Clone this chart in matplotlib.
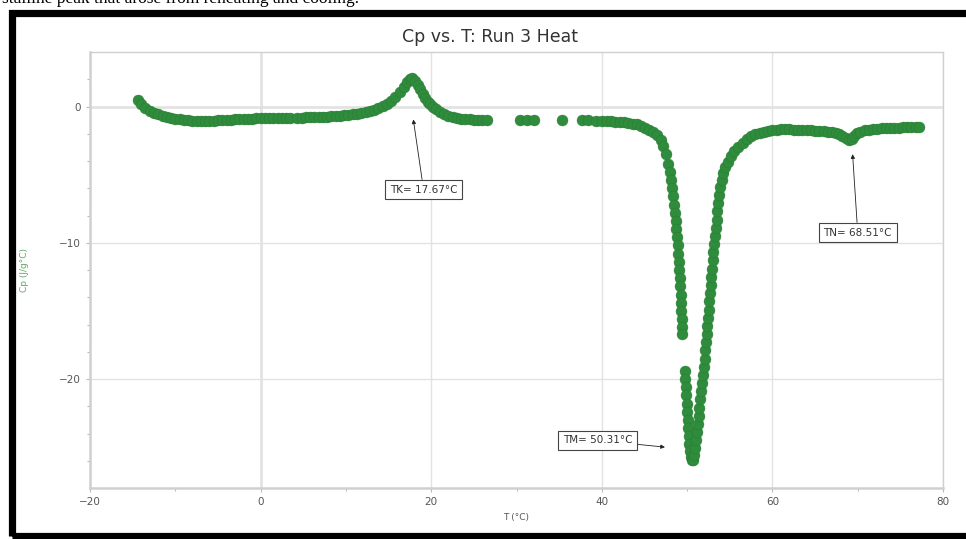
import matplotlib
matplotlib.use('Agg')
import numpy as np
import matplotlib.pyplot as plt
from matplotlib.patches import Rectangle

# Cp vs T, run 3 heating
t_base = [-14.4, -14.0, -13.5, -13.0, -12.5, -12.0, -11.5, -11.0, -10.5, -10.0,
          -9.5, -9.0, -8.5, -8.0, -7.5, -7.0, -6.5, -6.0, -5.5, -5.0,
          -4.5, -4.0, -3.5, -3.0, -2.5, -2.0, -1.5, -1.0, -0.5, 0.0,
          0.5, 1.0, 1.5, 2.0, 2.5, 3.0, 3.4]
cp_base = [0.45, 0.15, -0.1, -0.3, -0.45, -0.57, -0.67, -0.75, -0.82, -0.88,
           -0.93, -0.97, -1.0, -1.03, -1.05, -1.06, -1.06, -1.05, -1.04, -1.02,
           -1.0, -0.98, -0.96, -0.94, -0.92, -0.9, -0.89, -0.88, -0.87, -0.86,
           -0.85, -0.85, -0.84, -0.84, -0.83, -0.83, -0.83]

t_tk = [4.3, 4.8, 5.3, 5.8, 6.3, 6.8, 7.3, 7.8, 8.3, 8.8,
        9.3, 9.8, 10.3, 10.8, 11.3, 11.8, 12.3, 12.8, 13.3, 13.8,
        14.3, 14.8, 15.3, 15.8, 16.3, 16.8, 17.2, 17.5, 17.8, 18.1,
        18.4, 18.7, 19.0, 19.3, 19.6, 19.9, 20.2, 20.6, 21.0, 21.5,
        22.0, 22.5, 23.0, 23.5, 24.0, 24.5, 25.0, 25.5, 26.0, 26.5]
cp_tk = [-0.82, -0.81, -0.8, -0.79, -0.78, -0.77, -0.76, -0.74, -0.72, -0.7,
         -0.67, -0.64, -0.6, -0.56, -0.52, -0.46, -0.4, -0.33, -0.25, -0.12,
         0.02, 0.18, 0.4, 0.7, 1.05, 1.45, 1.8, 2.0, 2.1, 1.9,
         1.6, 1.25, 0.9, 0.6, 0.35, 0.15, 0.0, -0.2, -0.38, -0.55,
         -0.68, -0.77, -0.84, -0.89, -0.92, -0.95, -0.97, -0.98, -0.99, -1.0]

t_sparse = [30.4, 31.2, 32.0, 35.3, 37.7, 38.4, 39.3, 40.0]
cp_sparse = [-1.0, -1.0, -1.0, -1.0, -1.02, -1.02, -1.03, -1.04]

t_melt = [40.6, 41.1, 41.6, 42.1, 42.6, 43.1, 43.6, 44.1, 44.6, 45.1,
          45.5, 46.0, 46.5, 46.9, 47.2, 47.5, 47.8, 47.95, 48.1, 48.25,
          48.35, 48.45, 48.55, 48.65, 48.75, 48.82, 48.9, 48.96, 49.02, 49.08,
          49.13, 49.18, 49.23, 49.28, 49.32, 49.36, 49.4, 49.44]
cp_melt = [-1.05, -1.07, -1.1, -1.12, -1.15, -1.2, -1.25, -1.32, -1.42, -1.55,
           -1.7, -1.85, -2.1, -2.45, -2.9, -3.5, -4.2, -4.8, -5.4, -6.0,
           -6.6, -7.2, -7.8, -8.4, -9.0, -9.6, -10.2, -10.8, -11.4, -12.0,
           -12.6, -13.2, -13.8, -14.4, -15.0, -15.6, -16.2, -16.7]

t_trough = [49.75, 49.8, 49.85, 49.9, 49.95, 50.0, 50.05, 50.1, 50.18, 50.26,
            50.36, 50.48, 50.6, 50.72, 50.84, 50.95, 51.05, 51.15, 51.25, 51.35,
            51.45, 51.55, 51.65, 51.75, 51.85, 51.95, 52.05, 52.12, 52.2, 52.28,
            52.36, 52.44, 52.52, 52.6, 52.68, 52.76, 52.84, 52.92, 53.0, 53.08,
            53.17, 53.26, 53.35, 53.45, 53.55, 53.66, 53.78, 53.9]
cp_trough = [-19.4, -20.0, -20.6, -21.2, -21.8, -22.4, -23.0, -23.6, -24.2, -24.8,
             -25.3, -25.7, -25.95, -25.95, -25.6, -25.1, -24.5, -23.9, -23.3, -22.7,
             -22.1, -21.5, -20.9, -20.3, -19.7, -19.1, -18.5, -17.9, -17.3, -16.7,
             -16.1, -15.5, -14.9, -14.3, -13.7, -13.1, -12.5, -11.9, -11.3, -10.7,
             -10.1, -9.5, -8.9, -8.3, -7.7, -7.1, -6.5, -5.9]

t_recover = [54.05, 54.25, 54.5, 54.8, 55.15, 55.55, 56.0, 56.5, 57.0, 57.5,
             58.0, 58.5, 59.0, 59.5, 60.0, 60.5, 61.0, 61.5, 62.0, 62.5,
             63.0, 63.5, 64.0, 64.5, 65.0, 65.5, 66.0, 66.5, 67.0, 67.4,
             67.8, 68.2, 68.6, 69.0, 69.3, 69.6, 69.9, 70.3, 70.8, 71.3,
             71.8, 72.3, 72.8, 73.3, 73.8, 74.3, 74.8, 75.3, 75.8, 76.3,
             76.8, 77.2]
cp_recover = [-5.4, -4.9, -4.45, -4.05, -3.65, -3.3, -2.95, -2.65, -2.4, -2.2,
              -2.05, -1.93, -1.84, -1.77, -1.72, -1.69, -1.67, -1.67, -1.68, -1.69,
              -1.7, -1.72, -1.74, -1.76, -1.78, -1.8, -1.83, -1.86, -1.9, -1.96,
              -2.05, -2.18, -2.32, -2.45, -2.35, -2.15, -1.98, -1.85, -1.76, -1.7,
              -1.66, -1.63, -1.61, -1.59, -1.57, -1.56, -1.55, -1.54, -1.53, -1.52,
              -1.51, -1.5]

# annotation labels: (text, arrow tip, box centre)
labels = ['TK= 17.67°C', 'TM= 50.31°C', 'TN= 68.51°C']
tips = [(17.9, -0.95), (47.4, -25.0), (69.4, -3.5)]
boxes = [(19.1, -6.1), (39.5, -24.5), (70.0, -9.25)]

T = np.concatenate([t_base, t_tk, t_sparse, t_melt, t_trough, t_recover])
Cp = np.concatenate([cp_base, cp_tk, cp_sparse, cp_melt, cp_trough, cp_recover])

green = '#2f8c3c'

fig = plt.figure(figsize=(9.66, 5.39), dpi=100)
ax = fig.add_axes([0.0932, 0.0946, 0.883, 0.8089])

ax.scatter(T, Cp, s=62, color=green, edgecolors='#27782f', linewidths=0.3, zorder=3)

ax.set_xlim(-20, 80)
ax.set_ylim(-28, 4)
ax.set_xticks([-20, 0, 20, 40, 60, 80])
ax.set_xticks([-10, 10, 30, 50, 70], minor=True)
ax.set_yticks([-20, -10, 0])
ax.set_yticks(np.arange(-26, 4, 2), minor=True)

ax.grid(True, which='major', color='#e2e2e2', lw=1.0, zorder=0)
ax.axhline(0, color='#8a8a8a', lw=1.0, zorder=1)
ax.axvline(0, color='#8a8a8a', lw=1.0, zorder=1)

for s in ax.spines.values():
    s.set_color('#d0d0d0')
    s.set_linewidth(1.0)
ax.spines['bottom'].set_linewidth(1.8)
ax.spines['left'].set_linewidth(1.8)

ax.tick_params(which='both', colors='#bbbbbb', labelcolor='#555555', labelsize=7.5, length=3, width=0.8)
ax.tick_params(which='minor', length=2)

ax.set_xlabel('T (°C)', fontsize=6.5, color='#555555', labelpad=4)
ax.set_ylabel('Cp (J/g°C)', fontsize=6.5, color='#5aa862', labelpad=22)

fig.text(0.507, 0.931, 'Cp vs. T: Run 3 Heat', ha='center', va='center',
         fontsize=12.5, color='#333333')

for lab, tip, box in zip(labels, tips, boxes):
    ax.annotate(lab, xy=tip, xytext=box, textcoords='data', ha='center', va='center',
                fontsize=7.5, color='#333333', zorder=5,
                bbox=dict(boxstyle='square,pad=0.45', fc='white', ec='#444444', lw=0.8),
                arrowprops=dict(arrowstyle='-|>', color='#222222', lw=0.6,
                                mutation_scale=6, shrinkA=0, shrinkB=0))

# page text cut off above the chart and the black frame round it
fig.text(0.002, 0.994, 'stalline peak that arose from reheating and cooling.',
         ha='left', va='baseline', fontsize=12.5, family='Liberation Serif', color='black')
fig.patches.append(Rectangle((11.5 / 966, 3.5 / 539), 1.2, 1 - 16 / 539,
                             transform=fig.transFigure, fill=False,
                             ec='black', lw=5.2, clip_on=False))

fig.savefig('out.png', dpi=100)
